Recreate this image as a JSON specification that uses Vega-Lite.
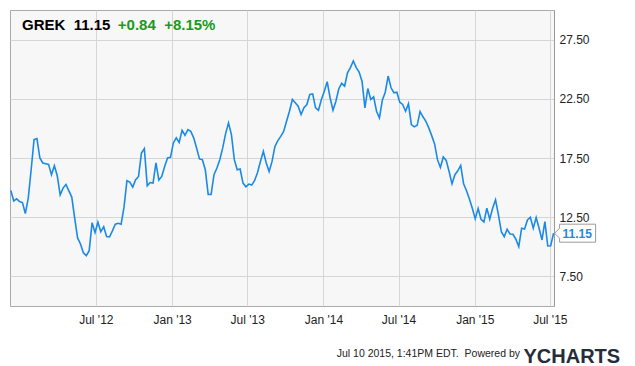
{
  "$schema": "https://vega.github.io/schema/vega-lite/v6.json",
  "width": 544,
  "height": 296,
  "autosize": {"type": "none"},
  "padding": {"left": 10, "top": 10, "right": 81, "bottom": 60},
  "background": "#ffffff",
  "title": {
    "text": "GREK\u00a0\u00a011.15",
    "subtitle": "\u200b\u00a0\u00a0\u00a0\u00a0\u00a0\u00a0\u00a0\u00a0\u00a0\u00a0\u00a0\u00a0\u00a0\u00a0\u00a0\u00a0\u00a0\u00a0\u00a0\u00a0\u00a0\u00a0\u00a0+0.84\u00a0\u00a0+8.15%",
    "anchor": "start",
    "frame": "group",
    "orient": "top",
    "offset": -23,
    "dx": 12,
    "font": "Liberation Sans",
    "fontSize": 15,
    "fontWeight": "bold",
    "color": "#000000",
    "subtitleFont": "Liberation Sans",
    "subtitleFontSize": 15,
    "subtitleFontWeight": "bold",
    "subtitleColor": "#1a9a1a",
    "subtitlePadding": -15
  },
  "data": {
    "values": [
      {"date": "2011-12-09", "price": 14.75},
      {"date": "2011-12-16", "price": 13.88},
      {"date": "2011-12-23", "price": 14.05},
      {"date": "2011-12-30", "price": 13.82},
      {"date": "2012-01-06", "price": 13.74},
      {"date": "2012-01-13", "price": 12.81},
      {"date": "2012-01-20", "price": 14.11},
      {"date": "2012-01-27", "price": 16.51},
      {"date": "2012-02-03", "price": 19.05},
      {"date": "2012-02-10", "price": 19.14},
      {"date": "2012-02-17", "price": 17.5},
      {"date": "2012-02-24", "price": 17.08},
      {"date": "2012-03-02", "price": 17.02},
      {"date": "2012-03-09", "price": 16.96},
      {"date": "2012-03-16", "price": 16.09},
      {"date": "2012-03-23", "price": 16.85},
      {"date": "2012-03-30", "price": 16.0},
      {"date": "2012-04-06", "price": 14.39},
      {"date": "2012-04-13", "price": 14.96},
      {"date": "2012-04-20", "price": 15.26},
      {"date": "2012-04-27", "price": 14.73},
      {"date": "2012-05-04", "price": 14.2},
      {"date": "2012-05-11", "price": 12.42},
      {"date": "2012-05-18", "price": 10.75},
      {"date": "2012-05-25", "price": 10.24},
      {"date": "2012-06-01", "price": 9.5},
      {"date": "2012-06-08", "price": 9.25},
      {"date": "2012-06-15", "price": 9.67},
      {"date": "2012-06-22", "price": 12.04},
      {"date": "2012-06-29", "price": 11.2},
      {"date": "2012-07-06", "price": 12.08},
      {"date": "2012-07-13", "price": 11.28},
      {"date": "2012-07-20", "price": 11.7},
      {"date": "2012-07-27", "price": 10.86},
      {"date": "2012-08-03", "price": 10.83},
      {"date": "2012-08-10", "price": 11.34},
      {"date": "2012-08-17", "price": 11.91},
      {"date": "2012-08-24", "price": 11.99},
      {"date": "2012-08-31", "price": 11.91},
      {"date": "2012-09-07", "price": 13.35},
      {"date": "2012-09-14", "price": 15.58},
      {"date": "2012-09-21", "price": 15.47},
      {"date": "2012-09-28", "price": 15.04},
      {"date": "2012-10-05", "price": 15.66},
      {"date": "2012-10-12", "price": 15.94},
      {"date": "2012-10-19", "price": 17.92},
      {"date": "2012-10-26", "price": 18.29},
      {"date": "2012-11-02", "price": 15.15},
      {"date": "2012-11-09", "price": 15.43},
      {"date": "2012-11-16", "price": 15.38},
      {"date": "2012-11-23", "price": 17.08},
      {"date": "2012-11-30", "price": 15.64},
      {"date": "2012-12-07", "price": 15.94},
      {"date": "2012-12-14", "price": 16.79},
      {"date": "2012-12-21", "price": 17.5},
      {"date": "2012-12-28", "price": 17.55},
      {"date": "2013-01-04", "price": 18.77},
      {"date": "2013-01-11", "price": 19.2},
      {"date": "2013-01-18", "price": 18.82},
      {"date": "2013-01-25", "price": 19.84},
      {"date": "2013-02-01", "price": 19.42},
      {"date": "2013-02-08", "price": 19.9},
      {"date": "2013-02-15", "price": 19.75},
      {"date": "2013-02-22", "price": 19.2},
      {"date": "2013-03-01", "price": 18.35},
      {"date": "2013-03-08", "price": 17.42},
      {"date": "2013-03-15", "price": 17.36},
      {"date": "2013-03-22", "price": 16.51},
      {"date": "2013-03-29", "price": 14.42},
      {"date": "2013-04-05", "price": 14.42},
      {"date": "2013-04-12", "price": 16.09},
      {"date": "2013-04-19", "price": 16.65},
      {"date": "2013-04-26", "price": 17.36},
      {"date": "2013-05-03", "price": 18.35},
      {"date": "2013-05-10", "price": 19.56},
      {"date": "2013-05-17", "price": 20.47},
      {"date": "2013-05-24", "price": 19.48},
      {"date": "2013-05-31", "price": 17.36},
      {"date": "2013-06-07", "price": 16.51},
      {"date": "2013-06-14", "price": 16.57},
      {"date": "2013-06-21", "price": 15.38},
      {"date": "2013-06-28", "price": 15.07},
      {"date": "2013-07-05", "price": 15.3},
      {"date": "2013-07-12", "price": 15.21},
      {"date": "2013-07-19", "price": 15.6},
      {"date": "2013-07-26", "price": 16.28},
      {"date": "2013-08-02", "price": 17.21},
      {"date": "2013-08-09", "price": 18.06},
      {"date": "2013-08-16", "price": 17.08},
      {"date": "2013-08-23", "price": 16.36},
      {"date": "2013-08-30", "price": 17.21},
      {"date": "2013-09-06", "price": 18.48},
      {"date": "2013-09-13", "price": 18.97},
      {"date": "2013-09-20", "price": 19.33},
      {"date": "2013-09-27", "price": 19.75},
      {"date": "2013-10-04", "price": 20.6},
      {"date": "2013-10-11", "price": 21.45},
      {"date": "2013-10-18", "price": 22.44},
      {"date": "2013-10-25", "price": 22.16},
      {"date": "2013-11-01", "price": 21.87},
      {"date": "2013-11-08", "price": 21.17},
      {"date": "2013-11-15", "price": 21.74},
      {"date": "2013-11-22", "price": 22.02},
      {"date": "2013-11-29", "price": 22.87},
      {"date": "2013-12-06", "price": 22.92},
      {"date": "2013-12-13", "price": 21.74},
      {"date": "2013-12-20", "price": 21.53},
      {"date": "2013-12-27", "price": 22.44},
      {"date": "2014-01-03", "price": 23.14},
      {"date": "2014-01-10", "price": 23.94},
      {"date": "2014-01-17", "price": 22.59},
      {"date": "2014-01-24", "price": 21.53},
      {"date": "2014-01-31", "price": 22.3},
      {"date": "2014-02-07", "price": 23.35},
      {"date": "2014-02-14", "price": 23.8},
      {"date": "2014-02-21", "price": 23.57},
      {"date": "2014-02-28", "price": 24.7},
      {"date": "2014-03-07", "price": 25.13},
      {"date": "2014-03-14", "price": 25.69},
      {"date": "2014-03-21", "price": 25.13},
      {"date": "2014-03-28", "price": 24.76},
      {"date": "2014-04-04", "price": 23.99},
      {"date": "2014-04-11", "price": 21.74},
      {"date": "2014-04-18", "price": 23.37},
      {"date": "2014-04-25", "price": 22.44},
      {"date": "2014-05-02", "price": 22.67},
      {"date": "2014-05-09", "price": 21.45},
      {"date": "2014-05-16", "price": 20.89},
      {"date": "2014-05-23", "price": 22.38},
      {"date": "2014-05-30", "price": 23.06},
      {"date": "2014-06-06", "price": 24.42},
      {"date": "2014-06-13", "price": 23.43},
      {"date": "2014-06-20", "price": 23.01},
      {"date": "2014-06-27", "price": 23.06},
      {"date": "2014-07-04", "price": 22.21},
      {"date": "2014-07-11", "price": 22.02},
      {"date": "2014-07-18", "price": 21.45},
      {"date": "2014-07-25", "price": 22.08},
      {"date": "2014-08-01", "price": 20.32},
      {"date": "2014-08-08", "price": 20.13},
      {"date": "2014-08-15", "price": 20.26},
      {"date": "2014-08-22", "price": 21.42},
      {"date": "2014-08-29", "price": 20.98},
      {"date": "2014-09-05", "price": 20.6},
      {"date": "2014-09-12", "price": 20.04},
      {"date": "2014-09-19", "price": 19.39},
      {"date": "2014-09-26", "price": 18.69},
      {"date": "2014-10-03", "price": 17.36},
      {"date": "2014-10-10", "price": 16.7},
      {"date": "2014-10-17", "price": 17.59},
      {"date": "2014-10-24", "price": 17.3},
      {"date": "2014-10-31", "price": 16.36},
      {"date": "2014-11-07", "price": 15.32},
      {"date": "2014-11-14", "price": 16.09},
      {"date": "2014-11-21", "price": 16.42},
      {"date": "2014-11-28", "price": 16.87},
      {"date": "2014-12-05", "price": 15.32},
      {"date": "2014-12-12", "price": 14.73},
      {"date": "2014-12-19", "price": 14.03},
      {"date": "2014-12-26", "price": 13.26},
      {"date": "2015-01-02", "price": 12.36},
      {"date": "2015-01-09", "price": 13.23},
      {"date": "2015-01-16", "price": 12.33},
      {"date": "2015-01-23", "price": 12.1},
      {"date": "2015-01-30", "price": 13.26},
      {"date": "2015-02-06", "price": 12.33},
      {"date": "2015-02-13", "price": 13.26},
      {"date": "2015-02-20", "price": 13.97},
      {"date": "2015-02-27", "price": 12.7},
      {"date": "2015-03-06", "price": 11.28},
      {"date": "2015-03-13", "price": 10.86},
      {"date": "2015-03-20", "price": 11.48},
      {"date": "2015-03-27", "price": 11.08},
      {"date": "2015-04-03", "price": 11.06},
      {"date": "2015-04-10", "price": 10.64},
      {"date": "2015-04-17", "price": 10.01},
      {"date": "2015-04-24", "price": 11.57},
      {"date": "2015-05-01", "price": 11.51},
      {"date": "2015-05-08", "price": 12.27},
      {"date": "2015-05-15", "price": 12.5},
      {"date": "2015-05-22", "price": 11.57},
      {"date": "2015-05-29", "price": 12.47},
      {"date": "2015-06-05", "price": 11.57},
      {"date": "2015-06-12", "price": 10.58},
      {"date": "2015-06-19", "price": 12.13},
      {"date": "2015-06-26", "price": 10.07},
      {"date": "2015-07-03", "price": 10.09},
      {"date": "2015-07-10", "price": 11.15}
    ]
  },
  "encoding": {
    "x": {
      "field": "date",
      "type": "temporal",
      "scale": {
        "type": "utc",
        "domain": [
          {"year": 2011, "month": 12, "date": 7, "utc": true},
          {"year": 2015, "month": 7, "date": 11, "utc": true}
        ]
      },
      "axis": {
        "values": [
          {"year": 2012, "month": 7, "date": 1, "utc": true},
          {"year": 2013, "month": 1, "date": 1, "utc": true},
          {"year": 2013, "month": 7, "date": 1, "utc": true},
          {"year": 2014, "month": 1, "date": 1, "utc": true},
          {"year": 2014, "month": 7, "date": 1, "utc": true},
          {"year": 2015, "month": 1, "date": 1, "utc": true},
          {"year": 2015, "month": 7, "date": 1, "utc": true}
        ],
        "format": "%b '%y",
        "ticks": false,
        "domain": false,
        "grid": true,
        "gridColor": "#d6d6d6",
        "labelFont": "Liberation Sans",
        "labelFontSize": 12,
        "labelColor": "#222222",
        "labelPadding": 8,
        "labelFlush": false,
        "title": "Jul 10 2015, 1:41PM EDT.\u00a0\u00a0Powered by",
        "titleFont": "Liberation Sans",
        "titleFontSize": 10.5,
        "titleFontWeight": "normal",
        "titleColor": "#222222",
        "titleAlign": "right",
        "titleAnchor": "start",
        "titleBaseline": "alphabetic",
        "titleX": 509.5,
        "titleY": 50
      }
    },
    "y": {
      "field": "price",
      "type": "quantitative",
      "scale": {"domain": [5, 30], "nice": false, "zero": false},
      "axis": {
        "orient": "right",
        "values": [7.5, 12.5, 17.5, 22.5, 27.5],
        "format": ".2f",
        "ticks": false,
        "domain": true,
        "domainColor": "#999999",
        "grid": true,
        "gridColor": "#d6d6d6",
        "labelFont": "Liberation Sans",
        "labelFontSize": 12,
        "labelColor": "#222222",
        "labelPadding": 5,
        "title": "YCHARTS",
        "titleFont": "Liberation Sans",
        "titleFontSize": 20,
        "titleFontWeight": "bold",
        "titleColor": "#252c3a",
        "titleAngle": 0,
        "titleAlign": "left",
        "titleAnchor": "start",
        "titleBaseline": "alphabetic",
        "titleX": -31,
        "titleY": 352
      }
    }
  },
  "layer": [
    {
      "mark": {"type": "line", "color": "#1a8ae6", "strokeWidth": 1.6, "interpolate": "linear"}
    },
    {
      "transform": [{"filter": "datum.price === 11.15"}],
      "mark": {
        "type": "point",
        "shape": "M1,0 L6,-5 L6,-9 L42,-9 L42,9 L6,9 L6,5 Z",
        "size": 4,
        "filled": false,
        "fill": "#ffffff",
        "fillOpacity": 1,
        "stroke": "#9a9a9a",
        "strokeWidth": 1,
        "opacity": 1
      }
    },
    {
      "transform": [{"filter": "datum.price === 11.15"}],
      "mark": {
        "type": "text",
        "text": "11.15",
        "align": "left",
        "baseline": "middle",
        "dx": 9,
        "dy": 1,
        "font": "Liberation Sans",
        "fontSize": 12,
        "fontWeight": "bold",
        "color": "#1a8ae6"
      }
    }
  ],
  "config": {
    "view": {"fill": "#f7f7f7", "stroke": "#aaaaaa", "strokeWidth": 1}
  }
}
